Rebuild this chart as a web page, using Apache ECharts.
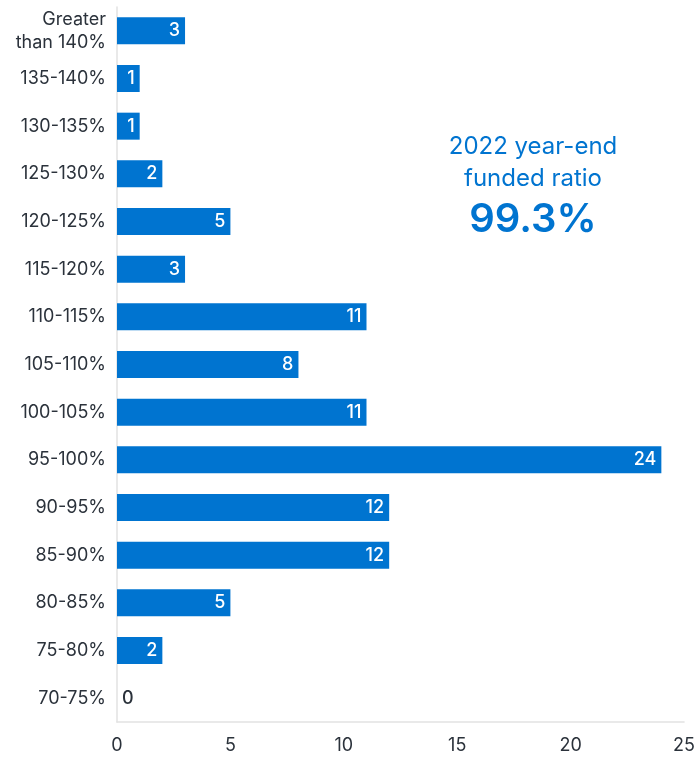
<!DOCTYPE html>
<html>
<head>
<meta charset="utf-8">
<title>Funded ratio distribution</title>
<script src="https://cdn.jsdelivr.net/npm/echarts@6/dist/echarts.min.js"></script>
<style>
  html, body { margin: 0; padding: 0; background: #fff; }
  #chart { width: 698px; height: 757px; }
</style>
</head>
<body>
<div id="chart"></div>
<script>
// categories top to bottom as in the picture
var categories = ['Greater\nthan 140%', '135-140%', '130-135%', '125-130%', '120-125%', '115-120%',
  '110-115%', '105-110%', '100-105%', '95-100%', '90-95%', '85-90%', '80-85%', '75-80%', '70-75%'];
var counts = [3, 1, 1, 2, 5, 3, 11, 8, 11, 24, 12, 12, 5, 2, 0];
var xTicks = [0, 5, 10, 15, 20, 25];

var blue = '#0074d0';
var ink = '#2b323b';
var fontName = 'Inter';

var chart = echarts.init(document.getElementById('chart'));

// the zero bar has no width, so its label sits outside in dark text
var barData = counts.map(function (v) {
  if (v === 0) {
    return { value: v, label: { position: 'insideLeft', color: ink } };
  }
  return v;
});

var option = {
  animation: false,
  grid: { left: 117, right: 12, top: 7, bottom: 35, containLabel: false },
  xAxis: {
    type: 'value',
    min: xTicks[0],
    max: xTicks[xTicks.length - 1],
    interval: 5,
    axisLine: { show: true, lineStyle: { color: '#e2e2e2', width: 1.5 } },
    axisTick: { show: false },
    splitLine: { show: false },
    axisLabel: { color: ink, fontSize: 18, fontFamily: fontName, margin: 15 }
  },
  yAxis: {
    type: 'category',
    inverse: true,
    data: categories,
    axisLine: { show: true, lineStyle: { color: '#e2e2e2', width: 1.5 } },
    axisTick: { show: false },
    axisLabel: { color: ink, fontSize: 18, fontFamily: fontName, margin: 11, lineHeight: 23 }
  },
  series: [{
    type: 'bar',
    data: barData,
    barWidth: 27,
    itemStyle: { color: blue },
    label: {
      show: true,
      position: 'insideRight',
      color: '#fff',
      fontSize: 18,
      fontWeight: 500,
      fontFamily: fontName,
      distance: 5
    }
  }],
  graphic: [
    { type: 'text', x: 533, y: 135, style: { text: '2022 year-end', fill: blue, font: '24px Inter', textAlign: 'center' } },
    { type: 'text', x: 533, y: 167, style: { text: 'funded ratio', fill: blue, font: '24px Inter', textAlign: 'center' } },
    { type: 'text', x: 533, y: 200, style: { text: '99.3%', fill: blue, font: '600 40px Inter', textAlign: 'center' } }
  ]
};

chart.setOption(option);
</script>
</body>
</html>
